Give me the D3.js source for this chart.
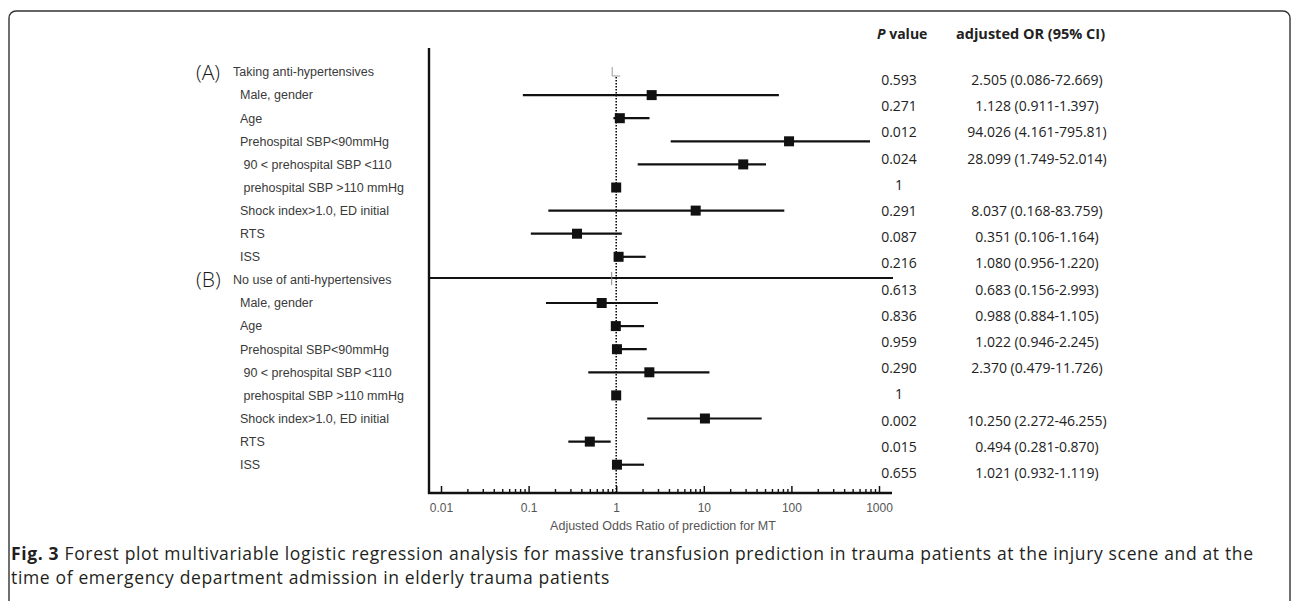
<!DOCTYPE html>
<html>
<head>
<meta charset="utf-8">
<script src="https://cdn.jsdelivr.net/npm/d3@7"></script>
<style>
  body { margin: 0; background: #fff; }
  svg { display: block; }
</style>
</head>
<body>
<div id="chart"></div>
<script>
// row labels (A then B), the group header rows carry no estimate
const groupTags = ["(A)", "(B)"];
const groupHeads = ["Taking anti-hypertensives", "No use of anti-hypertensives"];
const varLabels = ["Male, gender", "Age", "Prehospital SBP<90mmHg", " 90 < prehospital SBP <110",
  " prehospital SBP >110 mmHg", "Shock index>1.0, ED initial", "RTS", "ISS"];

// estimates as drawn in the plot
const orA = [2.54, 1.1, 94, 28.2, 1, 8.08, 0.357, 1.065];
const lowA = [0.086, 0.93, 4.19, 1.76, 1, 0.168, 0.106, 0.96];
const highA = [72, 2.4, 790, 51.3, 1, 83, 1.16, 2.17];
const orB = [0.683, 0.99, 1.02, 2.39, 1, 10.3, 0.5, 1.02];
const lowB = [0.158, 0.95, 0.95, 0.48, 1, 2.26, 0.284, 0.95];
const highB = [3.0, 2.08, 2.23, 11.6, 1, 45.8, 0.865, 2.08];

// right-hand columns
const pA = ["0.593", "0.271", "0.012", "0.024", "1", "0.291", "0.087", "0.216"];
const pB = ["0.613", "0.836", "0.959", "0.290", "1", "0.002", "0.015", "0.655"];
const ciTextA = ["2.505 (0.086-72.669)", "1.128 (0.911-1.397)", "94.026 (4.161-795.81)", "28.099 (1.749-52.014)",
  "", "8.037 (0.168-83.759)", "0.351 (0.106-1.164)", "1.080 (0.956-1.220)"];
const ciTextB = ["0.683 (0.156-2.993)", "0.988 (0.884-1.105)", "1.022 (0.946-2.245)", "2.370 (0.479-11.726)",
  "", "10.250 (2.272-46.255)", "0.494 (0.281-0.870)", "1.021 (0.932-1.119)"];

const majorTicks = [0.01, 0.1, 1, 10, 100, 1000];
const tickLabels = ["0.01", "0.1", "1", "10", "100", "1000"];
const axisTitle = "Adjusted Odds Ratio of prediction for MT";
const captionBold = "Fig. 3";
const captionLine1 = " Forest plot multivariable logistic regression analysis for massive transfusion prediction in trauma patients at the injury scene and at the";
const captionLine2 = "time of emergency department admission in elderly trauma patients";

const W = 1292, H = 601;
const svg = d3.select("#chart").append("svg").attr("width", W).attr("height", H);

// outer frame (rounded, bottom runs off the picture)
svg.append("rect")
  .attr("x", 9).attr("y", 11).attr("width", 1281).attr("height", 640)
  .attr("rx", 7).attr("fill", "none").attr("stroke", "#333").attr("stroke-width", 1.4);

const labelFont = "'Liberation Sans', Arial, sans-serif";
const tableFont = "'Open Sans', 'Noto Sans', sans-serif";

// scales
const x = d3.scaleLog().domain([0.01, 1000]).range([441, 879]);
const rowIdx = d3.range(18);
const y = d3.scalePoint().domain(rowIdx).range([72, 464.7]);
const tIdx = d3.range(16);
const yt = d3.scalePoint().domain(tIdx).range([80, 473]);

// build rows
const rows = [];
[[orA, lowA, highA], [orB, lowB, highB]].forEach((g, gi) => {
  rows.push({ idx: gi * 9, head: true, tag: groupTags[gi], label: groupHeads[gi] });
  varLabels.forEach((lab, i) => {
    rows.push({ idx: gi * 9 + 1 + i, head: false, label: lab, or: g[0][i], lo: g[1][i], hi: g[2][i] });
  });
});

// left labels
const lab = svg.append("g").attr("font-family", labelFont).attr("font-size", 12.5).attr("fill", "#3a3a3a");
lab.selectAll("text.row").data(rows).join("text")
  .attr("class", "row")
  .attr("x", d => d.head ? 233 : 240)
  .attr("y", d => y(d.idx))
  .attr("dy", "0.35em")
  .attr("xml:space", "preserve")
  .style("white-space", "pre")
  .text(d => d.label);
svg.selectAll("text.tag").data(rows.filter(d => d.head)).join("text")
  .attr("class", "tag")
  .attr("x", 196).attr("y", d => y(d.idx)).attr("dy", "0.36em")
  .attr("font-family", tableFont).attr("font-size", 21).attr("font-weight", 300).attr("fill", "#1a1a1a")
  .text(d => d.tag);

// axes frame
const axY = 493;
svg.append("line").attr("x1", 429).attr("x2", 429).attr("y1", 48).attr("y2", axY + 1)
  .attr("stroke", "#111").attr("stroke-width", 2.4);
svg.append("line").attr("x1", 428).attr("x2", 892).attr("y1", axY).attr("y2", axY)
  .attr("stroke", "#111").attr("stroke-width", 2.4);
svg.append("line").attr("x1", 429).attr("x2", 893).attr("y1", 278).attr("y2", 278)
  .attr("stroke", "#111").attr("stroke-width", 2.2);

// minor ticks
const minorTicks = [];
for (let e = -2; e < 3; e++) for (let k = 2; k <= 9; k++) minorTicks.push(k * Math.pow(10, e));
const minorAxis = svg.append("g").attr("transform", `translate(0,${axY})`)
  .call(d3.axisBottom(x).tickValues(minorTicks).tickSize(-4).tickFormat(""));
minorAxis.select(".domain").remove();
minorAxis.selectAll(".tick line").attr("stroke", "#111").attr("stroke-width", 1.4);

const majorAxis = svg.append("g").attr("transform", `translate(0,${axY})`)
  .call(d3.axisBottom(x).tickValues(majorTicks).tickSize(-7).tickPadding(10)
    .tickFormat((d, i) => tickLabels[i]));
majorAxis.select(".domain").remove();
majorAxis.selectAll(".tick line").attr("stroke", "#111").attr("stroke-width", 1.5);
majorAxis.selectAll(".tick text").attr("font-family", labelFont).attr("font-size", 12).attr("fill", "#555");

svg.append("text")
  .attr("x", (x.range()[0] + x.range()[1]) / 2 + 3).attr("y", 526).attr("dy", "0.35em")
  .attr("text-anchor", "middle").attr("font-family", labelFont).attr("font-size", 12.5).attr("fill", "#555")
  .text(axisTitle);

// reference line at OR = 1
svg.append("line").attr("x1", x(1)).attr("x2", x(1)).attr("y1", 77).attr("y2", axY - 1)
  .attr("stroke", "#000").attr("stroke-width", 1.5).attr("stroke-dasharray", "1.5,1.5");
// small stray marks on the null line
svg.append("path")
  .attr("d", `M${x(1) - 4},67V76H${x(1) + 4}`)
  .attr("fill", "none").attr("stroke", "#999").attr("stroke-width", 1);
svg.append("line").attr("x1", x(1) - 4.5).attr("x2", x(1) - 4.5).attr("y1", 272).attr("y2", 285)
  .attr("stroke", "#888").attr("stroke-width", 1);

// CIs and point estimates
const est = rows.filter(d => !d.head);
svg.append("g").selectAll("line").data(est.filter(d => d.hi > d.lo)).join("line")
  .attr("x1", d => x(d.lo)).attr("x2", d => x(d.hi))
  .attr("y1", d => y(d.idx)).attr("y2", d => y(d.idx))
  .attr("stroke", "#111").attr("stroke-width", 2.2);
const sq = 10;
svg.append("g").selectAll("rect").data(est).join("rect")
  .attr("x", d => x(d.or) - sq / 2).attr("y", d => y(d.idx) - sq / 2)
  .attr("width", sq).attr("height", sq).attr("fill", "#111");

// right table
const pVals = pA.concat(pB);
const ciText = ciTextA.concat(ciTextB);
const tab = svg.append("g").attr("font-family", tableFont).attr("font-size", 14).attr("fill", "#222");
tab.selectAll("text.p").data(pVals).join("text")
  .attr("class", "p").attr("x", 899).attr("y", (d, i) => yt(i)).attr("dy", "0.35em")
  .attr("text-anchor", "middle").text(d => d);
tab.selectAll("text.ci").data(ciText).join("text")
  .attr("class", "ci").attr("x", 1037).attr("y", (d, i) => yt(i)).attr("dy", "0.35em")
  .attr("text-anchor", "middle").text(d => d);

const hdr = tab.append("text").attr("x", 877).attr("y", 34).attr("dy", "0.35em").attr("font-weight", "bold");
hdr.append("tspan").attr("font-style", "italic").text("P");
hdr.append("tspan").text(" value");
tab.append("text").attr("x", 956).attr("y", 34).attr("dy", "0.35em").attr("font-weight", "bold")
  .attr("font-size", 14.5)
  .text("adjusted OR (95% CI)");

// caption
const cap = svg.append("g").attr("font-family", tableFont).attr("font-size", 17.5)
  .attr("letter-spacing", 0.65).attr("fill", "#231f20");
const c1 = cap.append("text").attr("x", 11).attr("y", 560).attr("xml:space", "preserve");
c1.append("tspan").attr("font-weight", "bold").text(captionBold);
c1.append("tspan").text(captionLine1);
cap.append("text").attr("x", 11).attr("y", 584).text(captionLine2);
</script>
</body>
</html>
